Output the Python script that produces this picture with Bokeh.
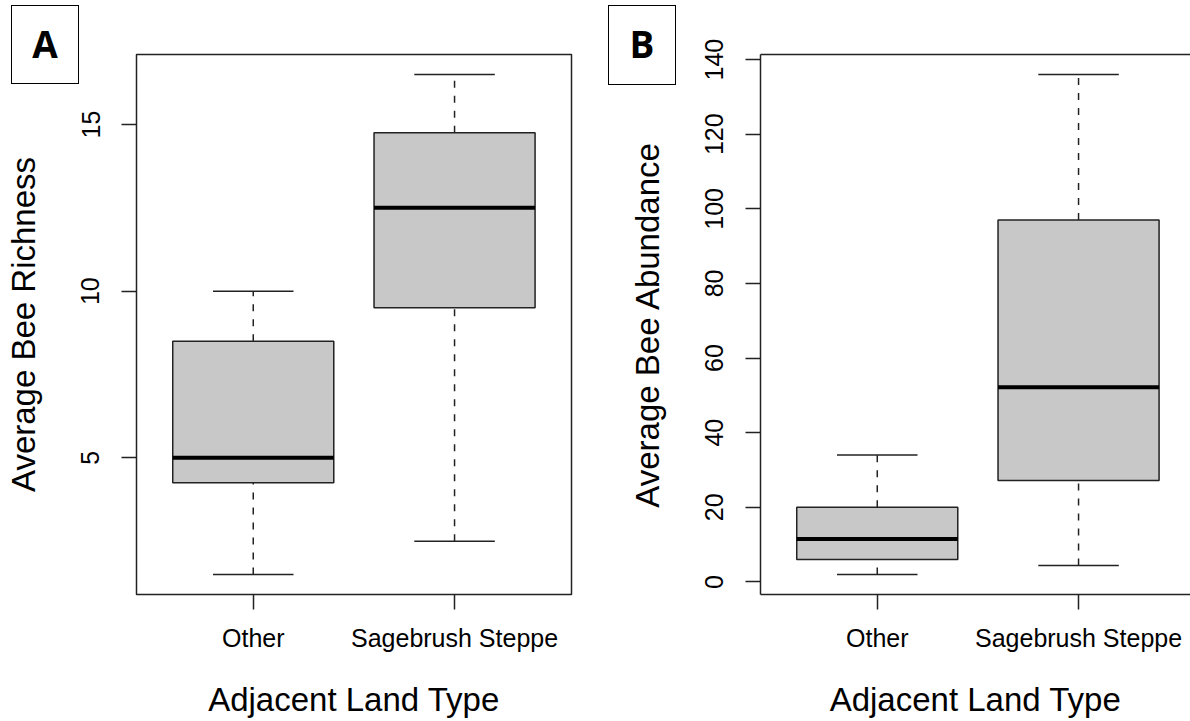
from bokeh.plotting import figure
from bokeh.models import Range1d, FixedTicker, LinearAxis, ColumnDataSource, Div
from bokeh.layouts import row
from bokeh.embed import file_html
from bokeh.resources import INLINE

# ---------------- data ----------------
categories = ["Other", "Sagebrush Steppe"]
positions = [1, 2]

richness_min = [1.5, 2.5]
richness_q1 = [4.25, 9.5]
richness_med = [5.0, 12.5]
richness_q3 = [8.5, 14.75]
richness_max = [10.0, 16.5]
richness_ticks = [5, 10, 15]

abund_min = [2.0, 4.4]
abund_q1 = [6.0, 27.2]
abund_med = [11.5, 52.2]
abund_q3 = [20.0, 97.0]
abund_max = [34.0, 136.0]
abund_ticks = [0, 20, 40, 60, 80, 100, 120, 140]

panel_letters = ["A", "B"]

# ---------------- style ----------------
FONT = "Liberation Sans"
LINE = "#222222"
FILL = "#C8C8C8"
BOX_HALF = 0.4
CAP_HALF = 0.2
PX_PER_X = 201.3
HEIGHT = 720
TOP_B = 54
BOTTOM_B = 125


def make_panel(ymin, yq1, ymed, yq3, ymax, yticks, ylabel,
               width, left_border, right_border, full_outline):
    lo = min(ymin) - 0.04 * (max(ymax) - min(ymin))
    hi = max(ymax) + 0.04 * (max(ymax) - min(ymin))
    frame_w = width - left_border - right_border
    x_start = 0.42
    x_end = x_start + frame_w / PX_PER_X
    p = figure(width=width, height=HEIGHT, output_backend="svg", toolbar_location=None,
               x_range=Range1d(x_start, x_end), y_range=Range1d(lo, hi),
               min_border_left=left_border, min_border_right=right_border,
               min_border_top=TOP_B, min_border_bottom=BOTTOM_B)
    p.grid.visible = False
    p.background_fill_color = "white"
    p.border_fill_color = "white"
    if full_outline:
        p.outline_line_color = LINE
        p.outline_line_width = 1.5
    else:
        p.outline_line_color = None

    src = ColumnDataSource(dict(
        x=positions,
        left=[v - BOX_HALF for v in positions],
        right=[v + BOX_HALF for v in positions],
        cl=[v - CAP_HALF for v in positions],
        cr=[v + CAP_HALF for v in positions],
        ymin=ymin, q1=yq1, med=ymed, q3=yq3, ymax=ymax))

    # whiskers (dashed)
    p.segment(x0="x", y0="q3", x1="x", y1="ymax", source=src, line_color=LINE,
              line_width=1.5, line_dash="7 8")
    p.segment(x0="x", y0="ymin", x1="x", y1="q1", source=src, line_color=LINE,
              line_width=1.5, line_dash="7 8")
    # whisker caps
    p.segment(x0="cl", y0="ymax", x1="cr", y1="ymax", source=src, line_color=LINE, line_width=1.5)
    p.segment(x0="cl", y0="ymin", x1="cr", y1="ymin", source=src, line_color=LINE, line_width=1.5)
    # boxes
    p.quad(left="left", right="right", bottom="q1", top="q3", source=src,
           fill_color=FILL, line_color=LINE, line_width=1.5)
    # medians
    p.segment(x0="left", y0="med", x1="right", y1="med", source=src, line_color="black",
              line_width=4)

    xa = p.xaxis[0]
    xa.ticker = FixedTicker(ticks=positions)
    xa.major_label_overrides = {pos: cat for pos, cat in zip(positions, categories)}
    ya = p.yaxis[0]
    ya.ticker = FixedTicker(ticks=yticks)
    ya.major_label_orientation = "parallel"
    for ax in (xa, ya):
        ax.minor_tick_line_color = None
        ax.major_tick_in = 0
        ax.major_tick_out = 15
        ax.major_tick_line_color = LINE
        ax.major_tick_line_width = 1.5
        ax.major_label_text_font = FONT
        ax.major_label_text_font_size = "25px"
        ax.major_label_text_color = "black"
        ax.axis_label_text_font = FONT
        ax.axis_label_text_font_size = "33px"
        ax.axis_label_text_font_style = "normal"
        ax.axis_label_text_color = "black"
        if full_outline:
            ax.axis_line_color = None
        else:
            ax.axis_line_color = LINE
            ax.axis_line_width = 1.5
    xa.axis_label = "Adjacent Land Type"
    xa.major_label_standoff = 14
    xa.axis_label_standoff = 26
    ya.axis_label = ylabel
    ya.major_label_standoff = 22
    ya.axis_label_standoff = 37

    if not full_outline:
        top = LinearAxis(ticker=FixedTicker(ticks=[]), axis_line_color=LINE,
                         axis_line_width=1.5, major_tick_line_color=None,
                         minor_tick_line_color=None, major_label_text_font_size="0px")
        p.add_layout(top, "above")
    return p


pA = make_panel(richness_min, richness_q1, richness_med, richness_q3, richness_max,
                richness_ticks, "Average Bee Richness",
                width=598, left_border=136, right_border=27, full_outline=True)
pB = make_panel(abund_min, abund_q1, abund_med, abund_q3, abund_max,
                abund_ticks, "Average Bee Abundance",
                width=592, left_border=162, right_border=0, full_outline=False)


def letter_box(letter, left, top, w, h):
    return Div(text=letter, width=w, height=h, margin=0,
               styles={"position": "absolute", "left": f"{left}px", "top": f"{top}px",
                       "width": f"{w}px", "height": f"{h}px", "box-sizing": "border-box",
                       "border": "1.5px solid black", "background": "white",
                       "display": "flex", "align-items": "center",
                       "justify-content": "center", "padding-bottom": "3px",
                       "font-family": "Open Sans", "font-weight": "bold",
                       "font-size": "37px", "color": "black", "z-index": "10",
                       "line-height": "1"})


divA = letter_box(panel_letters[0], 11, 5, 68, 79)
divB = letter_box(panel_letters[1], 608, 5, 68, 80)

layout = row(pA, pB, divA, divB)
open("out.html", "w").write(file_html(layout, INLINE))
